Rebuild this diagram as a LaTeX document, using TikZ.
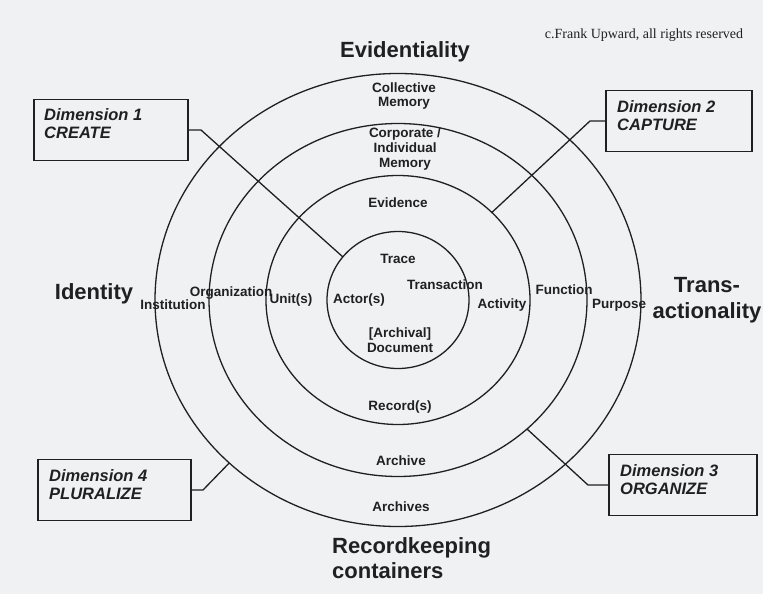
\documentclass[tikz,border=0pt]{standalone}
\usepackage{fontspec}
\setmainfont{Liberation Sans}
\newfontfamily\copyfont{Liberation Serif}
\usepackage{tikz}
\usetikzlibrary{shapes.geometric}
\definecolor{scan}{RGB}{240,241,243}
\definecolor{ink}{RGB}{32,32,32}

\begin{document}
\begin{tikzpicture}[x=1pt, y=-1pt,
	ring/.style={shape=ellipse, draw=ink, line width=1.3pt, inner sep=0pt, outer sep=0pt},
	lbl/.style={text=ink, inner sep=0pt, align=center, font=\bfseries\fontsize{13.5}{14.8}\selectfont},
	big/.style={text=ink, inner sep=0pt, align=center, font=\bfseries\fontsize{22}{25.5}\selectfont},
	dimbox/.style={shape=rectangle, draw=ink, line width=1.5pt, minimum height=61pt, inner sep=0pt, outer sep=0pt},
	dimtext/.style={text=ink, anchor=north west, inner sep=0pt, align=left, font=\bfseries\itshape\fontsize{16.5}{18}\selectfont},
	wire/.style={draw=ink, line width=1.3pt}]
	\fill[scan] (0, 0) rectangle (763, 594);
	\useasboundingbox (0, 0) rectangle (763, 594);

	\node[ring, minimum width=486pt, minimum height=453pt] (arcs) at (398, 300) {};
	\node[ring, minimum width=378pt, minimum height=353pt] (arc)  at (398, 300) {};
	\node[ring, minimum width=264pt, minimum height=249pt] (rec)  at (398, 300) {};
	\node[ring, minimum width=142pt, minimum height=137pt] (doc)  at (398, 300) {};

	\node[lbl] (collective)   at (404, 96)  {Collective\\Memory};
	\node[lbl] (corporate)    at (405, 149) {Corporate /\\Individual\\Memory};
	\node[lbl] (evidence)     at (398, 203) {Evidence};
	\node[lbl] (trace)        at (398, 259) {Trace};
	\node[lbl] (transaction)  at (445, 285) {Transaction};
	\node[lbl] (actor)        at (359, 300) {Actor(s)};
	\node[lbl] (activity)     at (502, 305) {Activity};
	\node[lbl] (function)     at (564, 290) {Function};
	\node[lbl] (purpose)      at (619, 305) {Purpose};
	\node[lbl] (unit)         at (291, 300) {Unit(s)};
	\node[lbl] (organization) at (231, 293) {Organization};
	\node[lbl] (institution)  at (173, 305) {Institution};
	\node[lbl] (document)     at (400, 340) {[Archival]\\Document};
	\node[lbl] (record)       at (400, 407) {Record(s)};
	\node[lbl] (archive)      at (401, 461) {Archive};
	\node[lbl] (archives)     at (401, 507) {Archives};

	\node[big] (evidentiality)    at (405, 52)  {Evidentiality};
	\node[big] (identity)         at (94, 294)  {Identity};
	\node[big] (transactionality) at (707, 300) {Trans-\\actionality};
	\node[big, anchor=west, align=left] (containers) at (332, 558) {Recordkeeping\\containers};
	\node[text=ink, inner sep=0pt, font=\copyfont\fontsize{14}{16}\selectfont] (copyright) at (644, 35) {c.Frank Upward, all rights reserved};

	\node[dimbox, minimum width=154pt] (create)   at (111, 130)   {};
	\node[dimbox, minimum width=146pt] (capture)  at (679, 121)   {};
	\node[dimbox, minimum width=148pt] (organize) at (683, 485)   {};
	\node[dimbox, minimum width=153pt] (pluralize) at (114.5, 490) {};
	\node[dimtext] (createtext)    at (44, 108)  {Dimension 1\\CREATE};
	\node[dimtext] (capturetext)   at (617, 100) {Dimension 2\\CAPTURE};
	\node[dimtext] (organizetext)  at (620, 464) {Dimension 3\\ORGANIZE};
	\node[dimtext] (pluralizetext) at (49, 469)  {Dimension 4\\PLURALIZE};

	\draw[wire] (create.east) -- ++(13, 0) -- (doc.142);
	\draw[wire] (capture.west) -- ++(-16, 0) -- (rec.43);
	\draw[wire] (organize.west) -- ++(-21, 0) -- (arc.-45);
	\draw[wire] (pluralize.east) -- ++(12, 0) -- (arcs.224);

\end{tikzpicture}
\end{document}
